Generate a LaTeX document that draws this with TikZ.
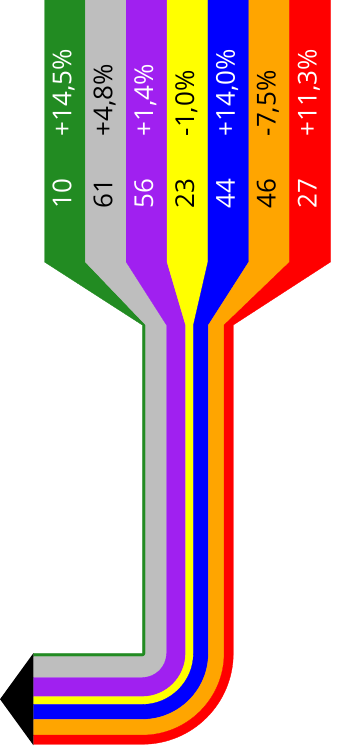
\documentclass[tikz,border=0pt]{standalone}
\usepackage{fontspec}
\setmainfont{Open Sans}
\definecolor{cgreen}{RGB}{34,139,34}
\definecolor{cgray}{RGB}{190,190,190}
\definecolor{cpurple}{RGB}{160,32,240}
\definecolor{cyellow}{RGB}{255,255,0}
\definecolor{cblue}{RGB}{0,0,255}
\definecolor{corange}{RGB}{255,165,0}
\definecolor{cred}{RGB}{255,0,0}
\newcommand\flowstrip[4]{% color, column index, inner offset, outer offset
  \fill[#1, draw=#1, line width=0.3pt]
    ({44.5+#2*40.857},-2) -- ({44.5+#2*40.857},262) -- ({142.3+#3},325)
    -- ({142.3+#3},653.3) arc (0:90:#3) -- (33.3,{653.3+#3})
    -- (33.3,{653.3+#4}) -- (142.3,{653.3+#4}) arc (90:0:#4)
    -- ({142.3+#4},325) -- ({44.5+(#2+1)*40.857},262)
    -- ({44.5+(#2+1)*40.857},-2) -- cycle;
}
\tikzset{
  lbl/.style={rotate=90, anchor=base west, inner sep=0pt,
    font=\fontsize{26}{30}\selectfont},
}
\begin{document}
\begin{tikzpicture}[x=1pt,y=-1pt]
\useasboundingbox (0,0) rectangle (357,749);
\flowstrip{cgreen}{0}{0.001}{3.408}
\flowstrip{cgray}{1}{3.408}{24.199}
\flowstrip{cpurple}{2}{24.199}{43.285}
\flowstrip{cyellow}{3}{43.285}{51.124}
\flowstrip{cblue}{4}{51.124}{66.120}
\flowstrip{corange}{5}{66.120}{81.798}
\flowstrip{cred}{6}{81.798}{91.0}
\fill[black] (33.3,653.3) -- (0,699.2) -- (33.3,745.1) -- cycle;
% labels
\node[lbl, white] (n1) at (71.4,209) {10};
\node[lbl, black] (n2) at (112.3,209) {61};
\node[lbl, white] (n3) at (153.1,209) {56};
\node[lbl, black] (n4) at (194.0,209) {23};
\node[lbl, white] (n5) at (234.9,209) {44};
\node[lbl, black] (n6) at (275.7,209) {46};
\node[lbl, white] (n7) at (316.6,209) {27};
\node[lbl, white] (p1) at (71.4,136.5) {+14,5\%};
\node[lbl, black] (p2) at (112.3,136.5) {+4,8\%};
\node[lbl, white] (p3) at (153.1,136.5) {+1,4\%};
\node[lbl, black] (p4) at (194.0,136.5) {-1,0\%};
\node[lbl, white] (p5) at (234.9,136.5) {+14,0\%};
\node[lbl, black] (p6) at (275.7,136.5) {-7,5\%};
\node[lbl, white] (p7) at (316.6,136.5) {+11,3\%};
\end{tikzpicture}
\end{document}
